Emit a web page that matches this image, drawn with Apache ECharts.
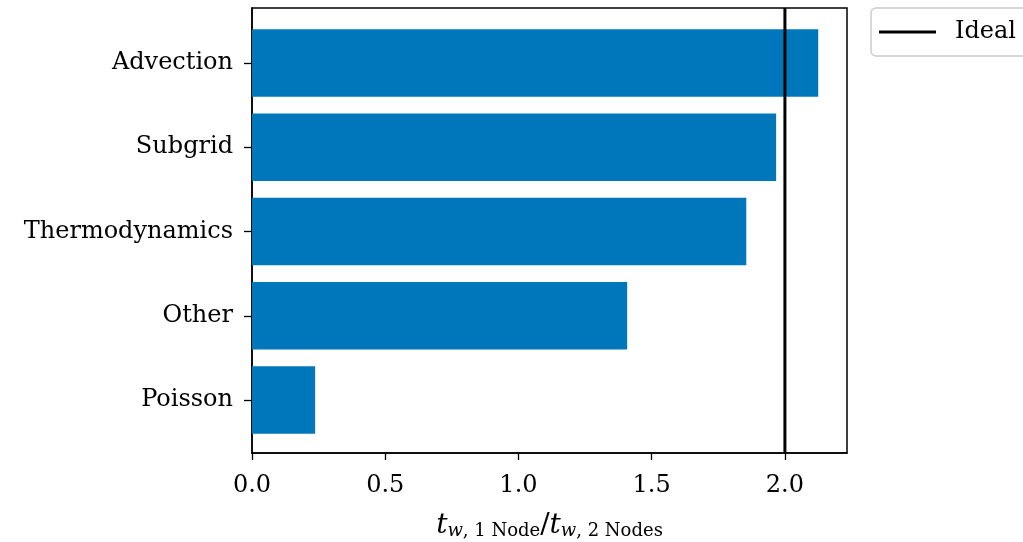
<!DOCTYPE html>
<html><head><meta charset="utf-8">
<script src="https://cdn.jsdelivr.net/npm/echarts@6/dist/echarts.min.js"></script>
<style>html,body{margin:0;padding:0;background:#fff}#c{width:1023px;height:542px}</style>
</head><body><div id="c"></div>
<script>
const categories = ['Advection', 'Subgrid', 'Thermodynamics', 'Other', 'Poisson'];
const speedup = [2.125, 1.967, 1.855, 1.408, 0.237];
const idealValue = 2.0;
const xTicks = [0, 0.5, 1.0, 1.5, 2.0];
const xMax = 2.233;

const font = 'DejaVu Serif';
const fs = 24;
const chart = echarts.init(document.getElementById('c'));
// plot frame: left 252, right 847, top 8, bottom 453; category band = 84.3px (matplotlib margins)
const band = 445 / 5.28;
const inset = 0.14 * band;
chart.setOption({
  animation: false,
  backgroundColor: '#fff',
  textStyle: {fontFamily: font},
  grid: [
    {left: 252, right: 176, top: 9 + inset, bottom: 88 + inset, show: false, outerBoundsMode: 'none', containLabel: false},
    {left: 252, right: 176, top: 8, bottom: 89, show: true, borderColor: '#000', borderWidth: 1.5, backgroundColor: 'transparent', outerBoundsMode: 'none', containLabel: false}
  ],
  legend: {
    data: [{name: 'Ideal', icon: 'rect'}],
    left: 871, top: 8, orient: 'vertical',
    itemWidth: 57, itemHeight: 3,
    padding: [12, 60, 12, 8],
    borderColor: '#cccccc', borderWidth: 1.5, borderRadius: 5,
    itemStyle: {color: '#000'},
    textStyle: {fontFamily: font, fontSize: fs, color: '#000', padding: [0, 0, 0, 14]}
  },
  xAxis: [
    {
      gridIndex: 0, type: 'value', min: 0, max: xMax, interval: 0.5,
      show: false
    },
    {
      gridIndex: 1, type: 'value', min: 0, max: xMax, interval: 0.5,
      axisLine: {show: true, onZero: false, lineStyle: {color: '#000', width: 1.5}},
      axisTick: {show: true, length: 7, lineStyle: {color: '#000', width: 1.3}, customValues: xTicks},
      axisLabel: {customValues: xTicks, formatter: v => v.toFixed(1), fontFamily: font, fontSize: fs, color: '#000', margin: 21},
      splitLine: {show: false},
      name: '{t|t}{sw|w}{s|, 1 Node}{n|/}{t|t}{sw|w}{s|, 2 Nodes}',
      nameLocation: 'middle', nameGap: 59,
      nameTextStyle: {
        rich: {
          t: {fontFamily: 'DejaVu Serif', fontStyle: 'italic', fontSize: 28, color: '#000', verticalAlign: 'bottom'},
          sw: {fontFamily: 'DejaVu Serif', fontStyle: 'italic', fontSize: 18, color: '#000', verticalAlign: 'bottom'},
          s: {fontFamily: 'DejaVu Serif', fontSize: 18, color: '#000', verticalAlign: 'bottom'},
          n: {fontFamily: 'DejaVu Serif', fontSize: 28, color: '#000', verticalAlign: 'bottom'}
        }
      }
    }
  ],
  yAxis: [
    {
      gridIndex: 0, type: 'category', data: categories, inverse: true,
      axisLine: {show: false},
      axisTick: {show: true, alignWithLabel: true, length: 8, lineStyle: {color: '#000', width: 1.3}},
      axisLabel: {fontFamily: font, fontSize: fs, color: '#000', margin: 19, padding: [4, 0, 0, 0]},
      splitLine: {show: false}
    },
    {
      gridIndex: 1, type: 'value', min: 0, max: 1,
      axisLine: {show: true, onZero: false, lineStyle: {color: '#000', width: 1.5}},
      axisTick: {show: false}, axisLabel: {show: false}, splitLine: {show: false}
    }
  ],
  series: [
    {
      type: 'bar', name: 'Time', xAxisIndex: 0, yAxisIndex: 0, barWidth: '80%',
      itemStyle: {color: '#0077BB'},
      data: speedup
    },
    {
      type: 'line', name: 'Ideal', xAxisIndex: 1, yAxisIndex: 1, symbol: 'none',
      lineStyle: {color: '#000', width: 3},
      itemStyle: {color: '#000'},
      data: [[idealValue, 0], [idealValue, 1]],
      z: 5
    }
  ]
});
</script></body></html>
